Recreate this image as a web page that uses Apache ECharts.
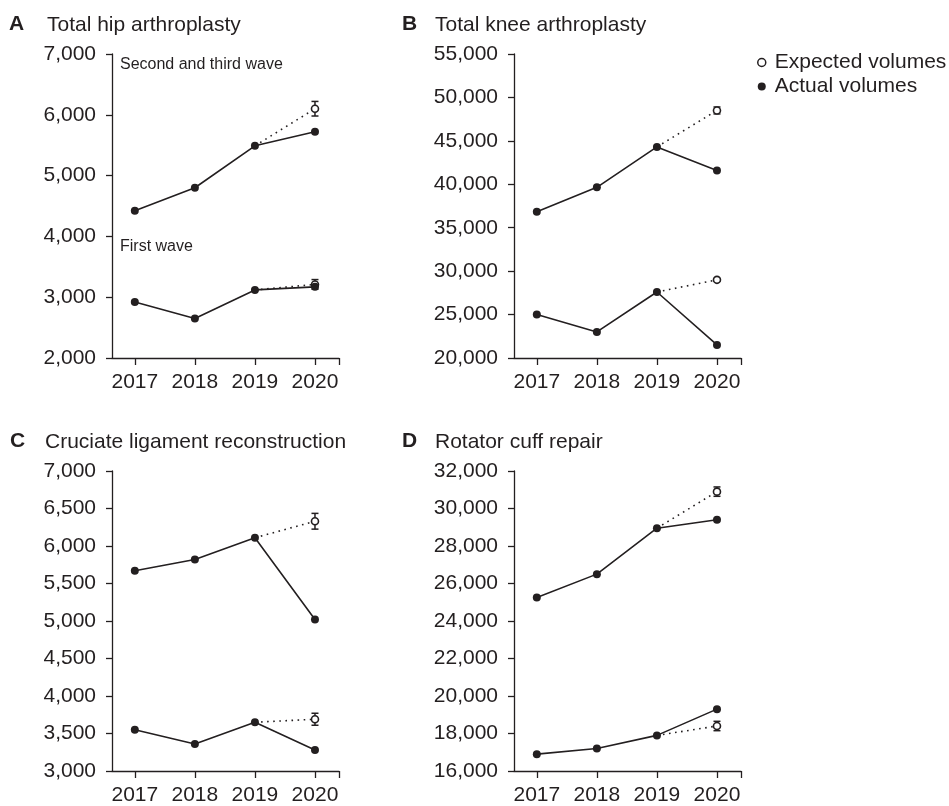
<!DOCTYPE html>
<html><head><meta charset="utf-8">
<script src="https://cdn.jsdelivr.net/npm/echarts@6/dist/echarts.min.js"></script>
<style>html,body{margin:0;padding:0;background:#fff}#c{width:949px;height:806px}</style>
</head><body><div id="c"></div><script>
const years = [2017, 2018, 2019, 2020];
const panelLetters = ['A', 'B', 'C', 'D'];
const panelTitles = ['Total hip arthroplasty', 'Total knee arthroplasty', 'Cruciate ligament reconstruction', 'Rotator cuff repair'];
// actual volumes, upper line (second and third wave)
const laterWavesActual = [
  [4420, 4800, 5490, 5720],
  [36850, 39650, 44300, 41600],
  [5670, 5820, 6110, 5020],
  [25250, 26500, 28950, 29400]
];
// actual volumes, lower line (first wave)
const firstWaveActual = [
  [2920, 2650, 3120, 3170],
  [25000, 23000, 27600, 21500],
  [3550, 3360, 3650, 3280],
  [16900, 17200, 17900, 19300]
];
const laterWavesExpected2020 = [6100, 48500, 6330, 30900];
const laterWavesExpectedErr = [120, 400, 105, 250];
const firstWaveExpected2020 = [3210, 29000, 3690, 18400];
const firstWaveExpectedErr = [80, 150, 80, 250];
const yMin = [2000, 20000, 3000, 16000];
const yMax = [7000, 55000, 7000, 32000];
const yStep = [1000, 5000, 500, 2000];
const xTickValues = [2017, 2018, 2019, 2020];

const INK = '#231f20';
const FONT = '"Liberation Sans", Arial, sans-serif';
const grids = [
  {left: 112, top: 54, width: 227, height: 304},
  {left: 514, top: 54, width: 227, height: 304},
  {left: 112, top: 471, width: 227, height: 302},
  {left: 514, top: 471, width: 227, height: 302}
];
const titlePos = [
  {lx: 9, tx: 47, ty: 15},
  {lx: 402, tx: 435, ty: 15},
  {lx: 10, tx: 45, ty: 432},
  {lx: 402, tx: 435, ty: 432}
];

const xAxes = [], yAxes = [], series = [], titles = [];
grids.forEach((g, i) => {
  xAxes.push({
    type: 'value', gridIndex: i, min: 2016.62, max: 2020.4,
    axisLine: {show: true, onZero: false, lineStyle: {color: INK, width: 1.3}},
    axisTick: {show: true, length: 7, customValues: xTickValues.concat([2020.4]), lineStyle: {color: INK, width: 1.3}},
    axisLabel: {customValues: xTickValues, margin: 14, color: INK, fontSize: 21, fontFamily: FONT, formatter: v => String(v)},
    splitLine: {show: false}
  });
  yAxes.push({
    type: 'value', gridIndex: i, min: yMin[i], max: yMax[i], interval: yStep[i],
    axisLine: {show: true, onZero: false, lineStyle: {color: INK, width: 1.3}},
    axisTick: {show: true, length: 6, lineStyle: {color: INK, width: 1.3}},
    axisLabel: {margin: 16, color: INK, fontSize: 21, fontFamily: FONT, formatter: v => v.toLocaleString('en-US')},
    splitLine: {show: false}
  });
  const p = titlePos[i];
  titles.push({text: panelLetters[i], left: p.lx, top: p.ty - 1, padding: 0,
    textStyle: {fontSize: 21, fontWeight: 'bold', color: INK, fontFamily: FONT}});
  titles.push({text: panelTitles[i], left: p.tx, top: p.ty, padding: 0,
    textStyle: {fontSize: 21, fontWeight: 'normal', color: INK, fontFamily: FONT}});

  const lines = [
    {act: laterWavesActual[i], exp: laterWavesExpected2020[i], err: laterWavesExpectedErr[i]},
    {act: firstWaveActual[i], exp: firstWaveExpected2020[i], err: firstWaveExpectedErr[i]}
  ];
  lines.forEach(l => {
    series.push({
      name: 'Expected volumes', type: 'line', xAxisIndex: i, yAxisIndex: i, z: 3,
      data: [{value: [years[2], l.act[2]], symbol: 'none'}, [years[3], l.exp]],
      symbol: 'circle', symbolSize: 7,
      itemStyle: {color: '#fff', borderColor: INK, borderWidth: 1.6},
      lineStyle: {color: INK, width: 1.6, type: [1.6, 4.5]},
      silent: true, animation: false
    });
    series.push({
      type: 'custom', xAxisIndex: i, yAxisIndex: i, z: 2, silent: true, animation: false,
      encode: {x: 0, y: [1, 2]},
      data: [[years[3], l.exp - l.err, l.exp + l.err]],
      renderItem: (params, api) => {
        const x = api.value(0);
        const pLo = api.coord([x, api.value(1)]);
        const pHi = api.coord([x, api.value(2)]);
        const st = {stroke: INK, lineWidth: 1.5, fill: null};
        return {type: 'group', children: [
          {type: 'line', shape: {x1: pLo[0], y1: pLo[1], x2: pHi[0], y2: pHi[1]}, style: st},
          {type: 'line', shape: {x1: pHi[0] - 3.5, y1: pHi[1], x2: pHi[0] + 3.5, y2: pHi[1]}, style: st},
          {type: 'line', shape: {x1: pLo[0] - 3.5, y1: pLo[1], x2: pLo[0] + 3.5, y2: pLo[1]}, style: st}
        ]};
      }
    });
    series.push({
      name: 'Actual volumes', type: 'line', xAxisIndex: i, yAxisIndex: i, z: 4,
      data: years.map((y, k) => [y, l.act[k]]),
      symbol: 'circle', symbolSize: 8,
      itemStyle: {color: INK, borderWidth: 0},
      lineStyle: {color: INK, width: 1.6},
      silent: true, animation: false
    });
  });
});

const chart = echarts.init(document.getElementById('c'), null, {renderer: 'canvas'});
chart.setOption({
  backgroundColor: '#fff',
  animation: false,
  title: titles,
  grid: grids,
  xAxis: xAxes,
  yAxis: yAxes,
  legend: {
    orient: 'vertical', left: 752, top: 47, itemWidth: 16, itemHeight: 8, itemGap: 3,
    symbolKeepAspect: true, selectedMode: false,
    textStyle: {fontSize: 21, color: INK, fontFamily: FONT},
    data: [
      {name: 'Expected volumes', icon: 'circle', itemStyle: {color: '#fff', borderColor: INK, borderWidth: 1.5}},
      {name: 'Actual volumes', icon: 'circle', itemStyle: {color: INK, borderWidth: 0}}
    ]
  },
  graphic: [
    {type: 'text', left: 120, top: 57, style: {text: 'Second and third wave', font: '16px ' + FONT, fill: INK}},
    {type: 'text', left: 120, top: 239, style: {text: 'First wave', font: '16px ' + FONT, fill: INK}}
  ],
  series: series
});
</script></body></html>
